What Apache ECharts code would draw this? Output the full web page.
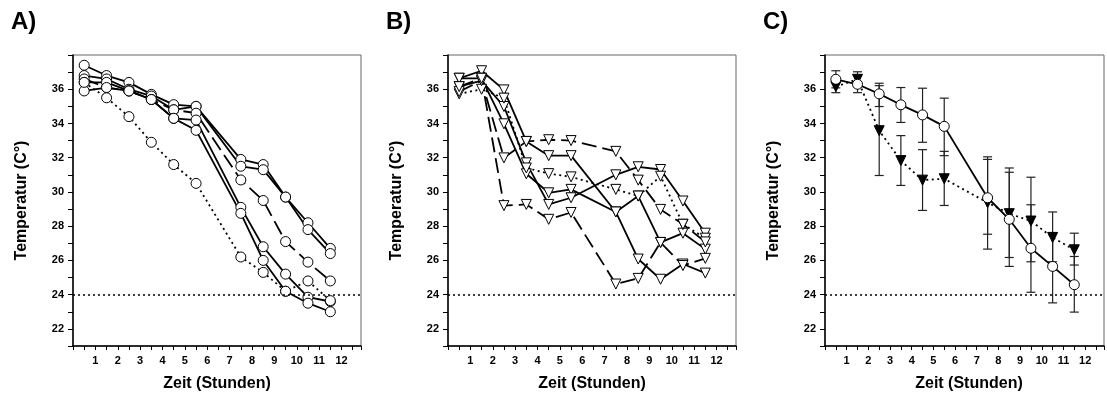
<!DOCTYPE html>
<html>
<head>
<meta charset="utf-8">
<script src="https://cdn.jsdelivr.net/npm/echarts@6/dist/echarts.min.js"></script>
<style>
  html, body { margin: 0; padding: 0; background: #fff; }
  #chart { width: 1107px; height: 407px; }
</style>
</head>
<body>
<div id="chart"></div>
<script>
// Measurement times (hours); no reading at 6.5 h
const hours = [0.5, 1.5, 2.5, 3.5, 4.5, 5.5, 7.5, 8.5, 9.5, 10.5, 11.5];
const xTickLabels = [1, 2, 3, 4, 5, 6, 7, 8, 9, 10, 11, 12];
const yTickLabels = [22, 24, 26, 28, 30, 32, 34, 36];
const thresholdTemp = 24;

// Panel A: single animals (open circles)
const a1 = [37.4, 36.8, 36.4, 35.7, 35.1, 35.0, 31.9, 31.6, 29.7, 28.2, 26.7];
const a2 = [36.8, 36.6, 36.0, 35.6, 34.8, 35.0, 31.5, 31.3, 29.7, 27.8, 26.4];
const a3 = [36.6, 36.1, 35.9, 35.4, 34.8, 34.6, 30.7, 29.5, 27.1, 25.9, 24.8];
const a4 = [36.4, 36.4, 35.9, 35.4, 34.3, 34.2, 29.1, 26.8, 25.2, 23.85, 23.6];
const a5 = [35.9, 36.1, 35.9, 35.4, 34.3, 33.6, 28.75, 26.0, 24.2, 23.5, 23.0];
const a6 = [36.4, 35.5, 34.4, 32.9, 31.6, 30.5, 26.2, 25.3, 24.2, 24.8, 23.65];

// Panel B: single animals (open down-triangles)
const b1 = [36.64, 37.08, 35.96, 32.95, 32.12, 32.12, 28.83, 26.08, 24.9, 25.79, 25.26];
const b2 = [36.64, 36.64, 33.98, 31.06, 29.95, 30.15, 28.83, 29.76, 27.05, 27.59, 26.66];
const b3 = [36.15, 36.5, 34.99, 31.7, 29.27, 29.66, 31.0, 31.47, 31.31, 29.47, 27.59];
const b4 = [35.73, 36.0, 35.48, 31.4, 31.07, 30.88, 30.15, 29.76, 30.92, 28.11, 27.3];
const b5 = [35.86, 36.5, 31.99, 32.95, 33.05, 33.0, 32.37, 30.69, 28.98, 28.11, 27.08];
const b6 = [36.15, 36.64, 29.2, 29.27, 28.4, 28.8, 24.62, 24.95, 27.05, 25.7, 26.12];

// Panel C: group means with error bar ends
const cMeanCircle = [36.58, 36.29, 35.73, 35.09, 34.5, 33.83, 29.66, 28.4, 26.71, 25.65, 24.58];
const cHighCircle = [37.08, 36.8, 36.35, 36.1, 36.06, 35.48, 31.9, 31.15, 29.25, 27.63, 26.23];
const cLowCircle  = [36.08, 35.8, 34.99, 34.06, 32.9, 32.12, 27.53, 25.65, 24.14, 23.52, 22.98];
const cMeanTri = [36.15, 36.58, 33.58, 31.83, 30.69, 30.77, 29.37, 28.73, 28.3, 27.34, 26.62];
const cHighTri = [36.5, 37.02, 36.21, 33.29, 32.47, 32.37, 32.05, 31.4, 30.86, 28.83, 27.59];
const cLowTri  = [35.8, 36.14, 30.96, 30.38, 28.92, 29.21, 26.66, 26.17, 25.92, 25.92, 25.73];

const FONT = '"Liberation Sans", Arial, sans-serif';
const SOLID = 'solid';
const LONGDASH = [15, 6];
const DOTTED = [2, 3.5];

const panels = [
  { left: 73, letter: 'A)' },
  { left: 448, letter: 'B)' },
  { left: 825, letter: 'C)' }
];
const PW = 288, PT = 55, PH = 291;

const grids = panels.map(p => ({
  left: p.left, top: PT, width: PW, height: PH,
  show: true, borderColor: '#666', borderWidth: 1, backgroundColor: 'transparent'
}));

const xAxes = panels.map((p, i) => ({
  type: 'value', gridIndex: i, min: 0, max: 12.87, interval: 0.5,
  axisLine: { show: true, onZero: false, lineStyle: { color: '#000', width: 1.5 } },
  axisTick: { show: true, inside: false, length: 4, lineStyle: { color: '#000', width: 1 } },
  axisLabel: {
    margin: 9, color: '#000', fontFamily: FONT, fontWeight: 'bold', fontSize: 11,
    formatter: v => (xTickLabels.indexOf(v) >= 0 ? String(v) : '')
  },
  splitLine: { show: false }
}));

const yAxes = panels.map((p, i) => ({
  type: 'value', gridIndex: i, min: 21, max: 38, interval: 1,
  axisLine: { show: true, onZero: false, lineStyle: { color: '#000', width: 1.5 } },
  axisTick: { show: true, inside: false, length: 5, lineStyle: { color: '#000', width: 1 } },
  axisLabel: {
    margin: 9, color: '#000', fontFamily: FONT, fontWeight: 'bold', fontSize: 11,
    formatter: v => (yTickLabels.indexOf(v) >= 0 ? String(v) : '')
  },
  splitLine: { show: false }
}));

function thresholdLine() {
  return {
    silent: true, symbol: 'none', label: { show: false },
    lineStyle: { color: '#000', type: [2, 3], width: 1.5 },
    data: [{ yAxis: thresholdTemp }]
  };
}

function animalSeries(gi, values, dash, symbol, first) {
  const s = {
    type: 'line', xAxisIndex: gi, yAxisIndex: gi, z: 3,
    data: hours.map((h, i) => [h, values[i]]),
    symbol: symbol === 'tri' ? 'triangle' : 'circle',
    symbolRotate: symbol === 'tri' ? 180 : 0,
    symbolSize: 10,
    showAllSymbol: true,
    itemStyle: { color: '#fff', borderColor: '#000', borderWidth: 1 },
    lineStyle: { color: '#000', width: 1.8, type: dash },
    emphasis: { disabled: true },
    animation: false
  };
  if (first) s.markLine = thresholdLine();
  return s;
}

function errorBars(gi, lows, highs) {
  return {
    type: 'custom', xAxisIndex: gi, yAxisIndex: gi, z: 2,
    data: hours.map((h, i) => [h, lows[i], highs[i]]),
    encode: { x: 0, y: [1, 2] },
    renderItem: (params, api) => {
      const x = api.value(0);
      const lo = api.coord([x, api.value(1)]);
      const hi = api.coord([x, api.value(2)]);
      const w = 4.5;
      const st = { stroke: '#222', lineWidth: 1.2 };
      return {
        type: 'group',
        children: [
          { type: 'line', shape: { x1: lo[0], y1: lo[1], x2: hi[0], y2: hi[1] }, style: st },
          { type: 'line', shape: { x1: hi[0] - w, y1: hi[1], x2: hi[0] + w, y2: hi[1] }, style: st },
          { type: 'line', shape: { x1: lo[0] - w, y1: lo[1], x2: lo[0] + w, y2: lo[1] }, style: st }
        ]
      };
    },
    animation: false
  };
}

const series = [
  animalSeries(0, a1, SOLID, 'circle', true),
  animalSeries(0, a2, SOLID, 'circle'),
  animalSeries(0, a3, LONGDASH, 'circle'),
  animalSeries(0, a4, SOLID, 'circle'),
  animalSeries(0, a5, SOLID, 'circle'),
  animalSeries(0, a6, DOTTED, 'circle'),

  animalSeries(1, b1, SOLID, 'tri', true),
  animalSeries(1, b2, SOLID, 'tri'),
  animalSeries(1, b3, SOLID, 'tri'),
  animalSeries(1, b4, DOTTED, 'tri'),
  animalSeries(1, b5, LONGDASH, 'tri'),
  animalSeries(1, b6, LONGDASH, 'tri'),

  errorBars(2, cLowCircle, cHighCircle),
  errorBars(2, cLowTri, cHighTri),
  {
    type: 'line', xAxisIndex: 2, yAxisIndex: 2, z: 4,
    data: hours.map((h, i) => [h, cMeanTri[i]]),
    symbol: 'triangle', symbolRotate: 180, symbolSize: 10, showAllSymbol: true,
    itemStyle: { color: '#000', borderColor: '#000', borderWidth: 1 },
    lineStyle: { color: '#000', width: 1.8, type: DOTTED },
    emphasis: { disabled: true }, animation: false,
    markLine: thresholdLine()
  },
  {
    type: 'line', xAxisIndex: 2, yAxisIndex: 2, z: 5,
    data: hours.map((h, i) => [h, cMeanCircle[i]]),
    symbol: 'circle', symbolSize: 10, showAllSymbol: true,
    itemStyle: { color: '#fff', borderColor: '#000', borderWidth: 1 },
    lineStyle: { color: '#000', width: 1.8, type: SOLID },
    emphasis: { disabled: true }, animation: false
  }
];

const graphic = [];
panels.forEach(p => {
  graphic.push({
    type: 'text', x: p.left - 62, y: 22,
    style: { text: p.letter, font: 'bold 24px ' + FONT, fill: '#000', align: 'left', verticalAlign: 'middle' }
  });
  graphic.push({
    type: 'text', x: p.left - 51, y: PT + PH / 2, rotation: Math.PI / 2,
    style: { text: 'Temperatur (C°)', font: 'bold 16px ' + FONT, fill: '#000', align: 'center', verticalAlign: 'middle' }
  });
  graphic.push({
    type: 'text', x: p.left + 144, y: 384,
    style: { text: 'Zeit (Stunden)', font: 'bold 16px ' + FONT, fill: '#000', align: 'center', verticalAlign: 'middle' }
  });
});

const chart = echarts.init(document.getElementById('chart'), null, { renderer: 'canvas' });
chart.setOption({
  animation: false,
  backgroundColor: '#fff',
  grid: grids,
  xAxis: xAxes,
  yAxis: yAxes,
  series: series,
  graphic: graphic
});
</script>
</body>
</html>
